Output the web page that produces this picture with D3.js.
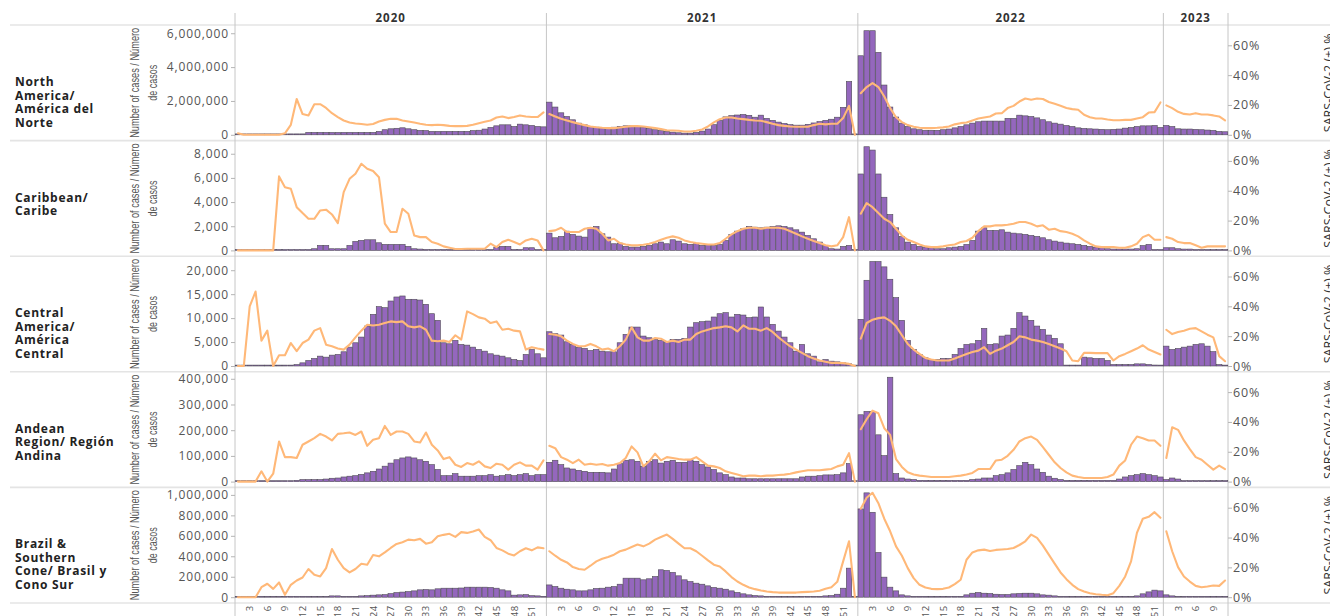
<!DOCTYPE html>
<html><head><meta charset="utf-8">
<script src="https://cdn.jsdelivr.net/npm/d3@7"></script>
<style>
body{margin:0;background:#fff;}
svg{display:block;}
</style>
</head><body>
<svg id="chart" width="1330" height="616"></svg>
<script>
// ---------- categories / labels ----------
const years = ["2020","2021","2022","2023"];
const weeksPerYear = [53,53,52,11];
const weekTickLabels = [3,6,9,12,15,18,21,24,27,30,33,36,39,42,45,48,51];
const regionNames = [
  ["North","America/","América del","Norte"],
  ["Caribbean/","Caribe"],
  ["Central","America/","América","Central"],
  ["Andean","Region/ Región","Andina"],
  ["Brazil &","Southern","Cone/ Brasil y","Cono Sur"]
];
const caseTicks = [
  [0,2000000,4000000,6000000],
  [0,2000,4000,6000,8000],
  [0,5000,10000,15000,20000],
  [0,100000,200000,300000,400000],
  [0,200000,400000,600000,800000,1000000]
];
const caseMax = [6310000, 8840, 22300, 415500, 1044000];
const pctTicks = [0,20,40,60];
const pctMax = 71.6;
const leftTitle = ["Number of cases / Número","de casos"];
const rightTitle = "SARS-CoV-2 (+) %";

// ---------- North America ----------
const naCases2020 = [0,0,0,0,0,0,0,0,0,0, 0,0,140000,140000,140000,140000,140000,140000,140000,140000, 140000,140000,140000,140000,200000,300000,355000,385000,414000,355000, 300000,260000,250000,200000,200000,200000,200000,200000,200000,200000, 250000,270000,340000,435000,530000,590000,590000,490000,630000,590000, 550000,490000,470000];
const naCases2021 = [1930000,1640000,1300000,1080000,887000,690000,590000,490000,453000,440000, 440000,450000,490000,530000,530000,490000,453000,375000,300000,250000, 200000,160000,120000,100000,100000,140000,220000,340000,600000,850000, 1060000,1130000,1170000,1200000,1150000,1040000,1160000,970000,850000,750000, 670000,600000,570000,570000,620000,700000,780000,850000,920000,1040000, 1620000,3150000,0];
const naCases2022 = [4670000,6150000,6150000,4870000,2940000,1640000,1050000,690000,490000,355000, 300000,260000,260000,260000,300000,340000,410000,490000,590000,690000, 770000,810000,810000,810000,810000,970000,970000,1160000,1120000,1080000, 1000000,890000,770000,690000,630000,550000,490000,410000,375000,355000, 340000,320000,300000,320000,340000,395000,430000,490000,530000,530000, 550000,430000];
const naCases2023 = [550000,490000,355000,340000,340000,320000,300000,280000,260000,200000,180000];
const naPct2020 = [1,0,0,0,0,0,0,0,1,6.7, 24,13.9,13,20.5,20.5,18,14.5,11.9,9.6,8.2, 7.6,7.2,6.7,7.2,8.9,10,10.7,10.7,9.6,8.9, 8.2,7.4,6.7,6.5,6.7,6.5,6,5.8,5.8,6, 6.7,7.8,8.7,9.6,11.6,12.3,11.2,11.9,13,12.3, 11.9,11.9,15];
const naPct2021 = [13.9,12.3,10.7,9.6,8.5,7.4,6.5,5.6,5.1,4.7, 4.5,4.5,4.9,5.4,5.8,5.8,5.6,5.1,4.5,3.8, 3.1,2.9,2.7,2.2,2.2,2.7,3.6,5.6,8.3,10.5, 11.6,11.6,10.9,10.5,10,9.6,9.4,8.5,7.4,6.5, 6,5.6,5.4,5.4,5.4,6.5,7.4,7,7.4,7.4, 11.2,19.4,0];
const naPct2022 = [27.9,32,34.7,32,25.7,17.9,11.8,8.5,6.5,5.4, 4.7,4.5,4.5,4.7,5,5.6,7,7.8,8.2,9.6, 10.9,11.6,12.3,14.3,14.5,17.9,19.4,22.3,24.3,23.5, 24.3,24,22,20.8,19.4,18,17.2,16.8,13.4,11.8, 10.9,10.9,10.3,9.8,9.8,10,10,10.9,11.8,14.9, 15.2,21.7];
const naPct2023 = [19.7,17.9,15.4,14,13.6,14.5,13.6,13.6,13,12.3,9.6];

// ---------- Caribbean ----------
const caCases2020 = [0,0,0,0,0,0,0,0,0,0, 0,20,60,137,412,412,137,137,137,412, 742,825,880,880,632,495,495,495,495,330, 137,110,82,40,40,40,40,40,40,40, 40,40,30,55,275,330,330,55,55,220, 220,10,0];
const caCases2021 = [1430,1045,1155,1595,1320,1183,1100,1870,1980,1375, 1100,550,605,330,275,275,330,412,550,690, 550,880,770,550,495,550,412,495,412,495, 825,1320,1595,1787,1980,1925,1870,1925,1980,2035, 1980,1870,1705,1512,1237,962,690,412,137,110, 330,412,0];
const caCases2022 = [6325,8580,8305,6325,4400,2970,1870,1155,687,495, 330,275,220,137,137,220,275,330,495,825, 1595,1870,1650,1650,1705,1512,1430,1375,1320,1237, 1155,1045,880,770,687,605,550,495,412,330, 275,220,137,110,110,110,110,137,400,495, 55,0];
const caCases2023 = [220,220,137,110,110,55,55,55,55,55,55];
const caPct2020 = [0,0,0,0,0,0,0,49.6,42.4,41.3, 29,25,21.2,21.2,26.8,27.3,24.1,18.3,39.1,48, 51.4,58.1,54.7,53.2,49.1,17.9,12.3,12.3,27.9,24.6, 10,8.9,8.9,5.6,4.5,2.7,1.8,0.9,0.9,1.1, 1.1,1.1,1.1,4.5,2.2,5.6,7.1,5.6,4,6.7, 7.8,6.7,0];
const caPct2021 = [12.9,13.4,15.2,12.3,12.3,12.3,14.5,15.2,14.5,11.2, 6.7,7.8,4.9,4,3.4,3.4,3.8,4.5,5.6,7.1, 8.5,9.4,8.5,6.7,5.6,4.9,4.5,4,4,4.9, 7.8,10.7,12.9,14.5,15.2,15.2,14.5,15.2,15.2,15.2, 14.5,12.9,11.2,9.4,7.8,6.3,4.9,3.4,2.7,3.4, 8.9,22.3,0];
const caPct2022 = [24.6,31.7,29,25,21.2,19,14.5,10,7.1,5.6, 4,2.7,2.2,2.2,2.7,3.4,4,5.6,6.3,8.5, 12.9,16.1,16.1,16.8,16.8,17.2,17.9,19,19,17.9, 16.1,16.8,13.9,14.5,12.9,12.3,11.2,9.4,6.7,4.5, 2.7,2.2,2.2,2.2,1.8,1.8,2.7,4.5,8.9,10.5, 7.1,7.1];
const caPct2023 = [8.9,7.8,5.6,4.9,4.9,3.4,1.8,2.7,2.7,2.7,2.7];

// ---------- Central America ----------
const ceCases2020 = [0,0,0,0,0,0,0,0,0,30, 300,660,1150,1570,2060,1850,2270,2410,2970,3940, 4850,6040,8340,10780,12390,12180,13570,14410,14620,13930, 13930,13780,12880,10920,9530,4850,4640,5340,4500,4360, 3940,3450,3100,2550,2270,2060,1710,1360,1150,2410, 3450,2550,1710];
const ceCases2021 = [7150,6740,6460,5060,4500,3940,3660,3240,3450,3100, 2970,2970,4850,6600,8130,8130,6250,5900,5550,5340, 5060,5550,5550,5760,8130,9040,9250,9390,10230,10920, 11130,10230,10780,10640,10090,10230,12320,10230,8690,7290, 6040,4850,3100,4500,2550,2060,870,1360,1010,870, 660,450,0];
const ceCases2022 = [9740,17900,21810,21810,20700,18110,14270,9530,5340,3450, 2410,1710,1360,1360,1570,1570,2410,3660,4500,4640, 5340,7850,4500,4640,6250,6460,7850,11130,10430,9530, 8340,7640,6460,5760,4640,170,170,100,1850,1710, 1570,1570,1150,310,310,310,310,450,450,310, 200,100];
const ceCases2023 = [4150,3450,3660,3940,4150,4500,4640,4150,3000,300,150];
const cePct2020 = [0,0,39.9,49.9,17,23.7,0,7.2,7.2,15.4, 9.9,15.4,17.7,23.7,25.4,14.3,13.2,11.7,11,14.3, 19.2,23.7,27.7,27.2,27.7,28.8,29.9,29.4,29.9,26.6, 25.9,26.6,24.3,17,16.6,17,16.1,20.6,17.7,36.6, 34.8,32.6,31.7,28.8,29.9,24.3,25,23.7,23.2,11, 12.6,11.7,11];
const cePct2021 = [21.4,21,19.9,17,14.8,13.2,13.2,14.8,13.2,11, 11.7,9.9,13.2,17.7,25.9,19.2,17,17,18.8,18.3, 16.1,17,16.1,17.7,17.7,21.4,23.2,24.3,25.4,25.9, 26.6,25.9,23.2,27.2,25,25,23.7,25.4,22.8,19.2, 16.1,13.2,11,8.8,6.6,5,3.7,2.8,2.1,2.1, 1.9,1.4,0];
const cePct2022 = [18.3,28.8,31,32.1,32.6,30.3,26.6,20.6,14.8,11, 8.1,5.4,4.3,3.7,3.7,3.7,5,6.6,8.1,9.4, 10.3,12.6,8.1,10.3,11.7,13.9,16.1,19.9,19.2,17.7, 17,16.1,14.8,13.2,11.7,9.9,3.7,3.2,8.8,8.8, 8.6,8.6,8.6,3.7,6.6,8.1,9.9,11.7,13.9,11, 9.4,7.7];
const cePct2023 = [24.3,21.4,22.8,23.7,25,25.4,23.2,21,19.2,6.6,3.2];

// ---------- Andean ----------
const anCases2020 = [0,0,0,0,0,0,0,0,0,0, 5000,7800,7800,7800,7800,10000,13000,14000,18000,21000, 23000,28000,34000,40000,49000,60000,72000,85000,92000,96000, 92000,85000,79000,66000,47000,23000,23000,31000,21000,21000, 21000,23000,23000,27000,21000,23000,27000,23000,27000,31000, 23000,27000,27000];
const anCases2021 = [75000,83000,66000,53000,49000,44000,40000,36000,36000,36000, 34000,49000,70000,83000,85000,79000,60000,79000,85000,72000, 79000,83000,75000,75000,85000,79000,66000,57000,47000,34000, 27000,18000,14000,14000,11000,11000,11000,11000,11000,11000, 11000,11000,11000,18000,21000,21000,23000,26000,26000,27000, 34000,70000,0];
const anCases2022 = [260000,273000,273000,182000,101000,406000,31000,14000,10000,8000, 5000,5000,5000,5000,5000,5000,5000,5000,5000,8000, 10000,14000,14000,23000,27000,34000,47000,62000,75000,66000, 49000,36000,21000,13000,8000,5000,5000,5000,5000,5000, 5000,5000,5000,5000,10000,18000,23000,27000,31000,27000, 23000,18000];
const anCases2023 = [8000,14000,10000,4000,4000,4000,4000,4000,4000,4000,4000];
const anPct2020 = [0,0,0,0,6.9,0,5.3,26.9,16.4,16.4, 15.8,24.7,26.9,29.1,32,30.2,27.6,32,32.4,32.9, 31.3,33.6,24,28,29.1,37.3,31.3,33.6,33.6,32, 26.9,26.2,32.9,24.7,20.9,15.1,16.4,11.3,9.8,12.4, 11.3,13.6,10.2,9.1,12,11.3,8,11.3,12.9,10.7, 10.7,8,14.2];
const anPct2021 = [24,22.4,16.4,14.7,12.4,14.7,11.3,12,11.3,11.8, 10.7,11.3,12.4,15.8,23.6,19.6,10.2,13.6,18.7,14.2, 16.4,15.8,15.1,14.7,14.7,16.4,13.6,10.7,10.2,9.1, 6.9,5.8,4.7,3.6,4,4,3.6,4,4,4.4, 4.7,5.3,6.2,6.9,7.6,7.6,7.6,8,8.4,10.2, 11.3,19.1,0];
const anPct2022 = [35.1,41.8,47.6,45.8,35.8,31.3,15.1,9.8,6.2,4.7, 4,3.6,3.1,3.1,3.1,3.1,3.6,4,4.7,5.8, 8.4,8.4,8.4,14.2,14.7,17.3,21.3,26.9,29.1,30.2, 28,23.1,18,12.9,9.1,6.2,4,3.1,2.4,2.4, 2.4,2.4,3.1,4.7,10.7,14.2,24.7,30.2,29.1,27.6, 27.6,24];
const anPct2023 = [15.8,36.4,34.7,27.6,21.8,16.4,14.7,11.3,8,10.7,8.4];

// ---------- Brazil & Southern Cone ----------
const bsCases2020 = [0,0,0,0,0,0,0,0,0,0, 0,0,0,0,0,5000,13000,13000,7000,7000, 7000,13000,15000,20000,23000,25000,35000,45000,50000,55000, 62000,72000,75000,72000,82000,88000,88000,88000,90000,98000, 98000,98000,98000,95000,88000,72000,62000,20000,23000,25000, 15000,13000,5000];
const bsCases2021 = [120000,104000,88000,78000,72000,62000,62000,72000,85000,88000, 98000,104000,127000,186000,186000,186000,170000,180000,202000,268000, 261000,242000,209000,170000,153000,137000,127000,111000,95000,88000, 78000,62000,46000,33000,23000,16000,13000,8000,8000,8000, 8000,8000,8000,8000,8000,8000,8000,13000,16000,29000, 88000,284000,0];
const bsCases2022 = [863000,1020000,830000,437000,196000,98000,62000,23000,13000,7000, 7000,2000,2000,2000,2000,2000,2000,7000,23000,39000, 46000,39000,36000,29000,26000,26000,33000,36000,39000,39000, 33000,23000,20000,13000,7000,2000,2000,2000,2000,2000, 2000,2000,2000,2000,2000,2000,7000,13000,33000,52000, 69000,62000];
const bsCases2023 = [23000,13000,7000,2000,2000,2000,2000,2000,2000,2000,2000];
const bsPct2020 = [0,0,0,0,6.7,9,5.6,9.9,1.6,8.3, 11.2,13.2,18.9,15,13.9,19.5,32.3,25.1,19.5,16.6, 18.9,22.4,21.8,28.3,27.4,30,33,35.7,36.8,38.6, 38.2,39.1,35.9,36.8,40.9,41.8,42.5,40.4,43.6,43.1, 44,45.4,40.4,38.2,33,31.4,29.2,28,30.8,32.8, 31.4,33.4,32.8];
const bsPct2021 = [30.8,27.8,25.1,23.3,20.2,18.9,18.4,21.1,24,25.8, 27,28.5,30.8,31.9,33.7,35.3,34.1,35.9,38.6,40.4, 42,39.1,35.9,32.8,32.8,30.8,27.8,24.7,21.8,20.6, 17.3,13.5,10.5,8.3,6.5,5.4,4.5,3.8,3.4,3.1, 3.1,3.1,3.1,3.4,3.6,3.8,4.3,5.6,6.7,10.3, 24,37.5,0];
const bsPct2022 = [59.3,66.7,70,63,52.6,44.2,34.1,27.8,19.5,12.8, 8.3,6.5,5.6,5.4,5.6,6.5,8.8,11.7,25.1,30, 31.4,31.9,31,31.7,32,32.3,33,35,37.5,42, 39.8,34.6,28.5,22.5,16.6,12.1,8.3,5.4,3.8,2.7, 2,1.6,1.3,2.7,7.6,13.9,24,43.1,52.6,53.9, 57,53.2];
const bsPct2023 = [44.2,30.8,20.2,13.9,10.5,7.6,6.7,7.2,7.8,7.6,11.2];

// ---------- assemble ----------
const casesByRegion = [
  [naCases2020, naCases2021, naCases2022, naCases2023],
  [caCases2020, caCases2021, caCases2022, caCases2023],
  [ceCases2020, ceCases2021, ceCases2022, ceCases2023],
  [anCases2020, anCases2021, anCases2022, anCases2023],
  [bsCases2020, bsCases2021, bsCases2022, bsCases2023]
];
const pctByRegion = [
  [naPct2020, naPct2021, naPct2022, naPct2023],
  [caPct2020, caPct2021, caPct2022, caPct2023],
  [cePct2020, cePct2021, cePct2022, cePct2023],
  [anPct2020, anPct2021, anPct2022, anPct2023],
  [bsPct2020, bsPct2021, bsPct2022, bsPct2023]
];

// ---------- layout ----------
const W = 1330, H = 616;
const plotLeft = 235, plotRight = 1228;
const headerY = 25, rowH = 115.6;
const BAR_FILL = "#9467bd", BAR_STROKE = "#4e4a55", LINE_COLOR = "#ffb878";
const TICK_FONT = "'Open Sans', 'DejaVu Sans', sans-serif";

const svg = d3.select("#chart");

const keys = [];
years.forEach((yr, yi) => { for (let w = 1; w <= weeksPerYear[yi]; w++) keys.push(yr + "-" + w); });
const x = d3.scaleBand().domain(keys).range([plotLeft, plotRight]).padding(0);
const bw = x.bandwidth();

// horizontal separators
const grid = svg.append("g");
for (let i = 0; i <= 5; i++) {
  const yy = headerY + i * rowH;
  grid.append("line").attr("x1", 10).attr("x2", W).attr("y1", yy).attr("y2", yy)
    .attr("stroke", "#e4e4e4").attr("stroke-width", 1.6);
}

// vertical dividers
const vxs = [plotLeft].concat(years.slice(1).map(y => x(y + "-1"))).concat([plotRight]);
vxs.forEach(vx => {
  grid.append("line").attr("x1", vx).attr("x2", vx).attr("y1", 13).attr("y2", H)
    .attr("stroke", "#c6c6c6").attr("stroke-width", 1);
});

// year headers
years.forEach((yr, yi) => {
  const x0 = x(yr + "-1"), x1 = x(yr + "-" + weeksPerYear[yi]) + bw;
  svg.append("text").attr("x", (x0 + x1) / 2).attr("y", 22)
    .attr("text-anchor", "middle")
    .style("font-family", TICK_FONT).style("font-weight", "bold")
    .style("font-size", "11.5px").style("letter-spacing", "1px").style("fill", "#333")
    .text(yr);
});

const lineGen = d3.line().curve(d3.curveLinear);

regionNames.forEach((names, ri) => {
  const top = headerY + ri * rowH;
  const zero = top + 109.8;
  const plotTop = top + 3;
  const mid = top + rowH / 2;
  const yL = d3.scaleLinear().domain([0, caseMax[ri]]).range([zero, plotTop]);
  const yR = d3.scaleLinear().domain([0, pctMax]).range([zero, plotTop]);

  const row = svg.append("g");

  // bars
  const barData = [];
  years.forEach((yr, yi) => {
    casesByRegion[ri][yi].forEach((v, i) => barData.push({ key: yr + "-" + (i + 1), v }));
  });
  row.append("g").selectAll("rect").data(barData).join("rect")
    .attr("x", d => x(d.key) + 0.25)
    .attr("width", bw - 0.5)
    .attr("y", d => Math.min(yL(d.v), zero - 0.9))
    .attr("height", d => Math.max(zero - yL(d.v), 0.9))
    .attr("fill", BAR_FILL)
    .attr("stroke", BAR_STROKE)
    .attr("stroke-width", 0.6);

  // lines (one per year pane)
  years.forEach((yr, yi) => {
    const pts = pctByRegion[ri][yi].map((p, i) => [x(yr + "-" + (i + 1)) + bw / 2, yR(p)]);
    row.append("path").attr("d", lineGen(pts))
      .attr("fill", "none").attr("stroke", LINE_COLOR)
      .attr("stroke-width", 2.1).attr("stroke-linejoin", "round").attr("stroke-linecap", "round");
  });

  // left axis
  const la = row.append("g").attr("transform", `translate(${plotLeft},0)`)
    .call(d3.axisLeft(yL).tickValues(caseTicks[ri]).tickSize(4).tickPadding(2).tickFormat(d3.format(",")));
  la.select(".domain").remove();
  la.selectAll("line").attr("stroke", "#b5b5b5");
  la.selectAll("text").style("font-family", TICK_FONT).style("font-size", "12px")
    .style("letter-spacing", "0.9px").style("fill", "#555");

  // right axis
  const ra = row.append("g").attr("transform", `translate(${plotRight},0)`)
    .call(d3.axisRight(yR).tickValues(pctTicks).tickSize(4).tickPadding(1).tickFormat(d => d + "%"));
  ra.select(".domain").remove();
  ra.selectAll("line").attr("stroke", "#b5b5b5");
  ra.selectAll("text").style("font-family", TICK_FONT).style("font-size", "12.5px")
    .style("letter-spacing", "0.9px").style("fill", "#555");

  // left axis title
  const lt = row.append("text")
    .attr("transform", `translate(138.5,${mid}) rotate(-90)`)
    .attr("text-anchor", "middle")
    .style("font-family", "'Liberation Sans Narrow','Liberation Sans',sans-serif")
    .style("font-size", "12.5px").style("fill", "#555");
  lt.append("tspan").attr("x", 0).attr("y", 0).attr("textLength", 110).attr("lengthAdjust", "spacingAndGlyphs").text(leftTitle[0]);
  lt.append("tspan").attr("x", 0).attr("y", 18).attr("textLength", 36).attr("lengthAdjust", "spacingAndGlyphs").text(leftTitle[1]);

  // right axis title (partly cut by the right edge, as in the reference)
  row.append("text")
    .attr("transform", `translate(1333,${mid}) rotate(-90)`)
    .attr("text-anchor", "middle")
    .style("font-family", TICK_FONT).style("font-size", "12.5px").style("fill", "#333")
    .text(rightTitle);

  // region label
  const rl = row.append("text").attr("x", 15).attr("y", top + 61)
    .style("font-family", TICK_FONT).style("font-weight", "bold")
    .style("font-size", "12px").style("letter-spacing", "0.7px").style("fill", "#222");
  names.forEach((n, i) => rl.append("tspan").attr("x", 15).attr("y", top + 61 + i * 13.5).text(n));
});

// x axis: week labels per year
const tickKeys = [];
years.forEach((yr, yi) => weekTickLabels.forEach(w => { if (w <= weeksPerYear[yi]) tickKeys.push(yr + "-" + w); }));
const xa = svg.append("g").attr("transform", `translate(0,${headerY + 5 * rowH})`)
  .call(d3.axisBottom(x).tickValues(tickKeys).tickSize(0).tickFormat(k => k.split("-")[1]));
xa.select(".domain").remove();
xa.selectAll("text")
  .attr("y", 0).attr("dy", null).attr("x", -2.5)
  .attr("transform", "rotate(-90)")
  .attr("dominant-baseline", "central")
  .style("text-anchor", "end")
  .style("font-family", TICK_FONT).style("font-size", "9.5px").style("letter-spacing", "0.4px").style("fill", "#555");
</script>
</body></html>
